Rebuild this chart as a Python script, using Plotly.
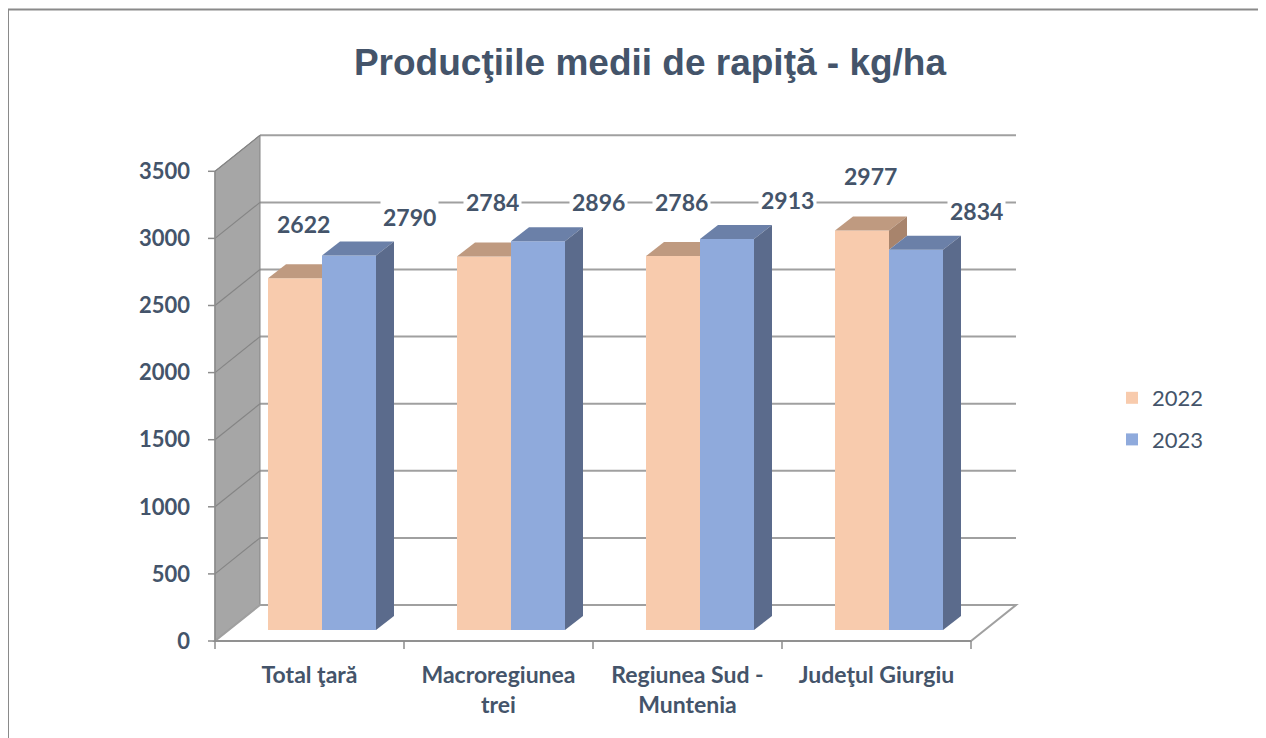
import plotly.graph_objects as go

# ---------------- data ----------------
categories = ["Total ţară", "Macroregiunea trei", "Regiunea Sud - Muntenia", "Judeţul Giurgiu"]
category_tick_labels = ["Total ţară", "Macroregiunea<br>trei", "Regiunea Sud -<br>Muntenia", "Judeţul Giurgiu"]
series_names = ["2022", "2023"]
values_2022 = [2622, 2784, 2786, 2977]
values_2023 = [2790, 2896, 2913, 2834]
y_ticks = [0, 500, 1000, 1500, 2000, 2500, 3000, 3500]
y_tick_labels = [str(v) for v in y_ticks]
title_text = "Producţiile medii de rapiţă - kg/ha"

# ---------------- styling / geometry ----------------
W, H = 1266, 738
PAGE_OFF = 8  # page body margin in the browser


def sx(p):
    """screen pixel -> figure pixel"""
    return p - PAGE_OFF


PLOT_L, PLOT_R, PLOT_T, PLOT_B = sx(195), sx(1040), sx(110), sx(652)
X_PX = 189.0      # pixels per category step
Y_PX = 0.1342     # pixels per kg/ha
X0_PX, Y0_PX = sx(322), sx(630)  # position of category 0 / value 0 (bar plane)


def ux(p):
    return p / X_PX


def uy(p):
    return p / Y_PX


x_range = [ux(PLOT_L - X0_PX), ux(PLOT_R - X0_PX)]
y_range = [uy(Y0_PX - PLOT_B), uy(Y0_PX - PLOT_T)]

BAR_W = ux(54)
DEPTH_X, DEPTH_Y = ux(18), uy(14)
BACK_X, BACK_Y = ux(32.5), uy(25)
FRONT_X, FRONT_Y = ux(-12.5), uy(-11)

n = len(categories)
cat_lo, cat_hi = -0.5, n - 0.5
ymax = y_ticks[-1]

TEXT = "#44546A"
GRID = "#a0a0a0"
WALL = "#a6a6a6"
WALL_LINE = "#858585"
AXIS = "#8c8c8c"

FRONT_COL = {"2022": "#F8CBAD", "2023": "#8FAADC"}
TOP_COL = {"2022": "#BF9A80", "2023": "#6B80A8"}
SIDE_COL = {"2022": "#A8846C", "2023": "#5B6B8C"}

FONT = "Lato"

fig = go.Figure()

# front faces of bars
xs = list(range(n))
fig.add_trace(go.Bar(x=xs, y=values_2022, name=series_names[0], width=BAR_W, offset=-BAR_W,
                     marker=dict(color=FRONT_COL["2022"], line=dict(width=0)),
                     legendgroup="a", hoverinfo="skip"))
fig.add_trace(go.Bar(x=xs, y=values_2023, name=series_names[1], width=BAR_W, offset=0,
                     marker=dict(color=FRONT_COL["2023"], line=dict(width=0)),
                     legendgroup="b", hoverinfo="skip"))


def poly(pts, color):
    px = [p[0] for p in pts] + [pts[0][0]]
    py = [p[1] for p in pts] + [pts[0][1]]
    fig.add_trace(go.Scatter(x=px, y=py, mode="none", fill="toself", fillcolor=color,
                             showlegend=False, hoverinfo="skip"))


# 3D faces
for i in range(n):
    v22, v23 = values_2022[i], values_2023[i]
    # 2022 bar
    xl, xr = i - BAR_W, i
    if v23 >= v22 + DEPTH_Y:
        poly([(xl, v22), (xl + DEPTH_X, v22 + DEPTH_Y), (xr, v22 + DEPTH_Y), (xr, v22)], TOP_COL["2022"])
    else:
        poly([(xl, v22), (xl + DEPTH_X, v22 + DEPTH_Y), (xr + DEPTH_X, v22 + DEPTH_Y), (xr, v22)], TOP_COL["2022"])
    if v22 > v23:
        poly([(xr, v23), (xr + DEPTH_X, v23 + DEPTH_Y), (xr + DEPTH_X, v22 + DEPTH_Y), (xr, v22)], SIDE_COL["2022"])
    # 2023 bar
    xl, xr = i, i + BAR_W
    poly([(xl, v23), (xl + DEPTH_X, v23 + DEPTH_Y), (xr + DEPTH_X, v23 + DEPTH_Y), (xr, v23)], TOP_COL["2023"])
    poly([(xr, 0), (xr + DEPTH_X, DEPTH_Y), (xr + DEPTH_X, v23 + DEPTH_Y), (xr, v23)], SIDE_COL["2023"])

# ---------------- walls / floor / axes as shapes ----------------
shapes = []


def path(pts, close=True):
    s = "M " + " L ".join(f"{x},{y}" for x, y in pts)
    return s + (" Z" if close else "")


fl, bl = cat_lo + FRONT_X, cat_lo + BACK_X
fr, br = cat_hi + FRONT_X, cat_hi + BACK_X

# back wall gridlines
for v in y_ticks:
    shapes.append(dict(type="line", xref="x", yref="y", x0=bl, x1=br, y0=v + BACK_Y, y1=v + BACK_Y,
                       line=dict(color=GRID, width=2), layer="below"))
# left side wall
shapes.append(dict(type="path", xref="x", yref="y",
                   path=path([(fl, FRONT_Y), (bl, BACK_Y), (bl, ymax + BACK_Y), (fl, ymax + FRONT_Y)]),
                   fillcolor=WALL, line=dict(color=WALL_LINE, width=1), layer="below"))
for v in y_ticks:
    shapes.append(dict(type="line", xref="x", yref="y", x0=fl, x1=bl, y0=v + FRONT_Y, y1=v + BACK_Y,
                       line=dict(color=WALL_LINE, width=1.2), layer="below"))
# floor
shapes.append(dict(type="path", xref="x", yref="y",
                   path=path([(fl, FRONT_Y), (bl, BACK_Y), (br, BACK_Y), (fr, FRONT_Y)]),
                   fillcolor="white", line=dict(color=GRID, width=2), layer="below"))
# front vertical axis + ticks
shapes.append(dict(type="line", xref="x", yref="y", x0=fl, x1=fl, y0=FRONT_Y, y1=ymax + FRONT_Y,
                   line=dict(color=AXIS, width=1.5), layer="below"))
for v in y_ticks:
    shapes.append(dict(type="line", xref="x", yref="y", x0=fl - ux(7), x1=fl, y0=v + FRONT_Y, y1=v + FRONT_Y,
                       line=dict(color=AXIS, width=1.5), layer="below"))
# front horizontal axis + ticks
shapes.append(dict(type="line", xref="x", yref="y", x0=fl, x1=fr, y0=FRONT_Y, y1=FRONT_Y,
                   line=dict(color=AXIS, width=1.5), layer="below"))
for k in range(n + 1):
    b = cat_lo + k + FRONT_X
    shapes.append(dict(type="line", xref="x", yref="y", x0=b, x1=b, y0=FRONT_Y, y1=FRONT_Y - uy(8),
                       line=dict(color=AXIS, width=1.5), layer="below"))

# outer chart border
PW, PH = PLOT_R - PLOT_L, PLOT_B - PLOT_T


def pxp(p):
    return (sx(p) - PLOT_L) / PW


def pyp(p):
    return (PLOT_B - sx(p)) / PH


shapes.append(dict(type="rect", xref="paper", yref="paper",
                   x0=pxp(8), x1=pxp(1260), y0=pyp(770), y1=pyp(9.5),
                   line=dict(color="#8a8a8a", width=2), fillcolor="rgba(0,0,0,0)", layer="above"))

# ---------------- data labels ----------------
annotations = []
label_font = dict(family=FONT, size=23, color=TEXT, weight="bold")
for i in range(n):
    annotations.append(dict(x=i - BAR_W / 2, y=values_2022[i], xref="x", yref="y",
                            text=str(values_2022[i]), showarrow=False, xshift=8, yshift=54,
                            font=label_font, bgcolor="white", borderpad=2))
    annotations.append(dict(x=i + BAR_W / 2, y=values_2023[i], xref="x", yref="y",
                            text=str(values_2023[i]), showarrow=False, xshift=60, yshift=39,
                            font=label_font, bgcolor="white", borderpad=2))

fig.update_layout(
    width=W, height=H,
    margin=dict(l=PLOT_L, r=W - PLOT_R, t=PLOT_T, b=H - PLOT_B, autoexpand=False),
    paper_bgcolor="white", plot_bgcolor="white",
    barmode="overlay",
    title=dict(text=title_text, x=sx(650) / W, xanchor="center", y=1 - sx(62) / H, yanchor="middle",
               font=dict(family="Liberation Sans, Arial", size=37, color=TEXT, weight="bold")),
    xaxis=dict(range=x_range, showgrid=False, zeroline=False, showline=False, ticks="",
               tickmode="array", tickvals=[i + FRONT_X for i in range(n)], ticktext=category_tick_labels,
               tickfont=dict(family=FONT, size=23, color=TEXT, weight="bold"), fixedrange=True,
               ticklabelstandoff=7),
    yaxis=dict(range=y_range, showgrid=False, zeroline=False, showline=False, ticks="",
               tickmode="array", tickvals=[v + FRONT_Y for v in y_ticks], ticktext=y_tick_labels,
               tickfont=dict(family=FONT, size=22, color=TEXT, weight="bold"), fixedrange=True,
               ticklabelstandoff=4),
    legend=dict(x=pxp(1112), xanchor="left", y=pyp(377), yanchor="top",
                font=dict(family=FONT, size=22, color=TEXT), tracegroupgap=10,
                bgcolor="rgba(0,0,0,0)"),
    shapes=shapes,
    annotations=annotations,
    showlegend=True,
)

fig.write_html("out.html")
